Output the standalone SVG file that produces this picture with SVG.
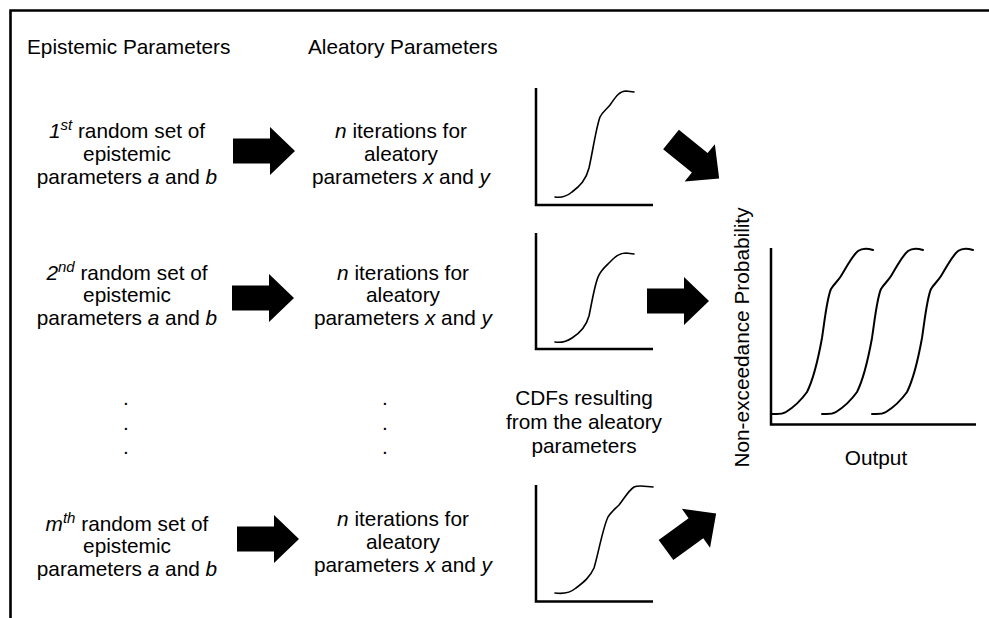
<svg xmlns="http://www.w3.org/2000/svg" width="989" height="618" viewBox="0 0 989 618">
<defs>
<style>
text{font-family:"Liberation Sans",Arial,Helvetica,sans-serif;font-size:20.8px;fill:#000}
.c{text-anchor:middle}
.i{font-style:italic}
.sup{font-size:15px;font-style:italic}
.ax{fill:none;stroke:#000;stroke-width:2.5}
.cv{fill:none;stroke:#000;stroke-width:1.6;stroke-linecap:round}
.cvb{fill:none;stroke:#000;stroke-width:2;stroke-linecap:round}
.arr{fill:#000}
</style>
<path id="arrow" d="M0,-12.5 H37 V-24 L62,0 L37,24 V12.5 H0 Z"/>
<path id="bigcurve" d="M772,414 C776,414 781,415 786,412 C794,407 802,399 807,392 C813,380 818,360 822,338 C825,318 827,298 831,289 C834,284 838,281 841,276 C846,268 852,256 858,251 C862,248 867,248 873,250"/>
</defs>
<rect width="989" height="618" fill="#fff"/>
<path id="frame" d="M10.5,618 V10.5 H989" fill="none" stroke="#000" stroke-width="2.6"/>

<g id="hdr-epistemic"><text x="27" y="54">Epistemic Parameters</text></g>
<g id="hdr-aleatory"><text x="308" y="54">Aleatory Parameters</text></g>

<g id="epi1">
<text class="c" x="127" y="137.5"><tspan class="i">1</tspan><tspan class="sup" dy="-8">st</tspan><tspan dy="8"> random set of</tspan></text>
<text class="c" x="127" y="160.5">epistemic</text>
<text class="c" x="127" y="183.5">parameters <tspan class="i">a</tspan> and <tspan class="i">b</tspan></text>
</g>
<g id="epi2">
<text class="c" x="127" y="279.5"><tspan class="i">2</tspan><tspan class="sup" dy="-8">nd</tspan><tspan dy="8"> random set of</tspan></text>
<text class="c" x="127" y="302">epistemic</text>
<text class="c" x="127" y="325">parameters <tspan class="i">a</tspan> and <tspan class="i">b</tspan></text>
</g>
<g id="epi-dots">
<text class="c" x="126" y="405">.</text>
<text class="c" x="126" y="429.5">.</text>
<text class="c" x="126" y="454">.</text>
</g>
<g id="epim">
<text class="c" x="127" y="530.5"><tspan class="i">m</tspan><tspan class="sup" dy="-8">th</tspan><tspan dy="8"> random set of</tspan></text>
<text class="c" x="127" y="553">epistemic</text>
<text class="c" x="127" y="576">parameters <tspan class="i">a</tspan> and <tspan class="i">b</tspan></text>
</g>

<g id="ale1">
<text class="c" x="401" y="137.5"><tspan class="i">n</tspan> iterations for</text>
<text class="c" x="401" y="160.5">aleatory</text>
<text class="c" x="401" y="183.5">parameters <tspan class="i">x</tspan> and <tspan class="i">y</tspan></text>
</g>
<g id="ale2">
<text class="c" x="403" y="279.5"><tspan class="i">n</tspan> iterations for</text>
<text class="c" x="403" y="302">aleatory</text>
<text class="c" x="403" y="325">parameters <tspan class="i">x</tspan> and <tspan class="i">y</tspan></text>
</g>
<g id="ale-dots">
<text class="c" x="385" y="405">.</text>
<text class="c" x="385" y="429.5">.</text>
<text class="c" x="385" y="454">.</text>
</g>
<g id="alem">
<text class="c" x="403" y="526"><tspan class="i">n</tspan> iterations for</text>
<text class="c" x="403" y="549">aleatory</text>
<text class="c" x="403" y="572">parameters <tspan class="i">x</tspan> and <tspan class="i">y</tspan></text>
</g>

<g id="cdf1">
<path class="ax" d="M536,88 V205 H653"/>
<path class="cv" d="M555,197 C561,198 566,197 572,192 C580,186 586,180 589,168 C593,150 596,128 600,117 C603,111 607,109 610,105 C615,98 619,91 626,91 L634,92"/>
</g>
<g id="cdf2">
<path class="ax" d="M536,233 V349 H653"/>
<path class="cv" d="M555,342 C561,343 566,342 572,338 C580,333 586,327 589,316 C592,302 595,282 599,275 C602,269 606,266 610,262 C615,257 619,253 626,253 L634,254"/>
</g>
<g id="cdf-label">
<text class="c" x="584" y="405">CDFs resulting</text>
<text class="c" x="584" y="429">from the aleatory</text>
<text class="c" x="584" y="453">parameters</text>
</g>
<g id="cdf3">
<path class="ax" d="M536,485 V601.5 H653"/>
<path class="cv" d="M555,593 C562,594 570,593 576,588 C584,582 590,577 594,568 C598,555 603,527 608,517 C611,512 615,509 619,505 C624,499 628,491 634,487 C638,485 642,486 653,487"/>
</g>

<g id="result">
<path class="ax" d="M771,248 V424.5 H976"/>
<use href="#bigcurve" class="cvb"/>
<use href="#bigcurve" class="cvb" transform="translate(50,0)"/>
<use href="#bigcurve" class="cvb" transform="translate(100,0)"/>
<text class="c" transform="translate(749,337.5) rotate(-90)" x="0" y="0">Non-exceedance Probability</text>
<text class="c" x="876" y="465">Output</text>
</g>

<g id="connectors">
<use href="#arrow" class="arr" transform="translate(233,151)"/>
<use href="#arrow" class="arr" transform="translate(232,298)"/>
<use href="#arrow" class="arr" transform="translate(237,539)"/>
<use href="#arrow" class="arr" transform="translate(671,139.5) rotate(39)"/>
<use href="#arrow" class="arr" transform="translate(647,301)"/>
<use href="#arrow" class="arr" transform="translate(666,550) rotate(-36)"/>
</g>
</svg>
